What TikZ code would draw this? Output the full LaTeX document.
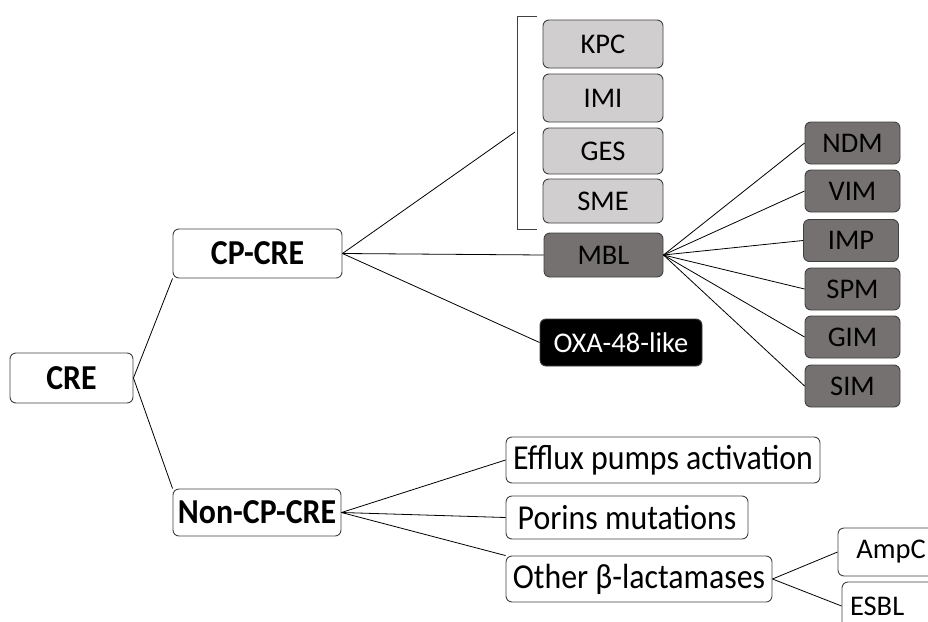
\documentclass[tikz,border=0pt]{standalone}
\usepackage{fontspec}
\setmainfont{Carlito}
\newfontfamily\bigfont[FakeStretch=0.91]{Carlito}
\definecolor{lightfill}{HTML}{D0CECE}
\definecolor{darkfill}{HTML}{767171}
\definecolor{edgecol}{HTML}{404040}
\begin{document}
\begin{tikzpicture}[x=1pt,y=-1pt,
  box/.style={draw=edgecol, rounded corners=6pt, line width=0.9pt, inner sep=0pt,
    font=\bigfont\fontsize{35}{40}\selectfont},
  boldbox/.style={box, font=\bigfont\fontsize{35}{40}\selectfont\bfseries},
  smallbox/.style={box, font=\fontsize{28.5}{33}\selectfont},
  lightbox/.style={smallbox, fill=lightfill, minimum width=120pt},
  darkbox/.style={smallbox, fill=darkfill, minimum width=95pt, minimum height=42pt},
  conn/.style={draw=black, line width=0.8pt}]
\useasboundingbox (0,0) rectangle (928,621);
\clip (0,0) rectangle (928,621);

% level 0/1
\node[boldbox, minimum width=123pt, minimum height=50pt] (cre) at (71.5,378) {CRE};
\node[boldbox, minimum width=169pt, minimum height=49pt] (cpcre) at (257.5,253.5) {CP-CRE};
\node[boldbox, minimum width=168pt, minimum height=47pt] (noncp) at (257,512.5) {Non-CP-CRE};

% CP-CRE children
\node[lightbox, minimum height=48pt] (kpc) at (603,44) {KPC};
\node[lightbox, minimum height=48pt] (imi) at (603,98) {IMI};
\node[lightbox, minimum height=46pt] (ges) at (603,151) {GES};
\node[lightbox, minimum height=44pt] (sme) at (603,201) {SME};
\node[smallbox, fill=darkfill, minimum width=119pt, minimum height=44pt] (mbl) at (603.5,255) {MBL};
\node[smallbox, fill=black, text=white, minimum width=162pt, minimum height=47pt] (oxa) at (621,342.5) {OXA-48-like};

% bracket
\draw[edgecol, line width=0.9pt] (537,16) -- (517,16) -- (517,229) -- (537,229);
\coordinate (brk) at (515,132);

% MBL children
\node[darkbox] (ndm) at (852.5,143) {NDM};
\node[darkbox] (vim) at (852.5,191) {VIM};
\node[darkbox] (imp) at (851,240.5) {IMP};
\node[darkbox] (spm) at (852.5,289) {SPM};
\node[darkbox] (gim) at (852.5,337) {GIM};
\node[darkbox] (sim) at (852.5,386) {SIM};

% Non-CP-CRE children
\node[box, minimum width=314pt, minimum height=46pt] (efflux) at (663,460) {Efflux pumps activation};
\node[box, minimum width=242pt, minimum height=43pt] (porins) at (627,517.5) {Porins mutations};
\node[box, minimum width=266pt, minimum height=46pt] (other) at (639,579) {Other β-lactamases};
\node[smallbox, minimum width=106pt, minimum height=48pt] (ampc) at (891,552) {AmpC};
\node[smallbox, minimum height=48pt, text width=84pt, inner xsep=8pt, align=left] (esbl) at (892,606) {ESBL};

% connectors
\draw[conn] (cre.east) -- (cpcre.south west);
\draw[conn] (cre.east) -- (noncp.north west);
\draw[conn] (cpcre.east) -- (brk);
\draw[conn] (cpcre.east) -- (mbl.west);
\draw[conn] (cpcre.east) -- (oxa.west);
\foreach \n in {ndm,vim,imp,spm,gim,sim}
  \draw[conn] (mbl.east) -- (\n.west);
\draw[conn] (noncp.east) -- (efflux.west);
\draw[conn] (noncp.east) -- (porins.west);
\draw[conn] (noncp.east) -- (other.north west);
\draw[conn] (other.east) -- (ampc.west);
\draw[conn] (other.east) -- (esbl.west);
\end{tikzpicture}
\end{document}
